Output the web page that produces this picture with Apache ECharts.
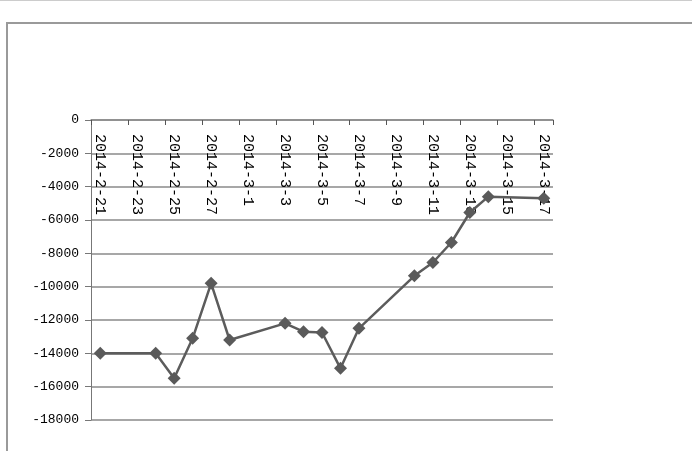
<!DOCTYPE html>
<html>
<head>
<meta charset="utf-8">
<script src="https://cdn.jsdelivr.net/npm/echarts@6/dist/echarts.min.js"></script>
<style>
html,body{margin:0;padding:0;background:#fff;}
#chart{width:692px;height:451px;}
</style>
</head>
<body>
<div id="chart"></div>
<script>
// All calendar days shown on the category axis
var categories = [
  '2014-2-21','2014-2-22','2014-2-23','2014-2-24','2014-2-25','2014-2-26','2014-2-27','2014-2-28',
  '2014-3-1','2014-3-2','2014-3-3','2014-3-4','2014-3-5','2014-3-6','2014-3-7','2014-3-8',
  '2014-3-9','2014-3-10','2014-3-11','2014-3-12','2014-3-13','2014-3-14','2014-3-15','2014-3-16','2014-3-17'
];
// Dates that carry a data point and their values
var pointDates = [
  '2014-2-21','2014-2-24','2014-2-25','2014-2-26','2014-2-27','2014-2-28',
  '2014-3-3','2014-3-4','2014-3-5','2014-3-6','2014-3-7',
  '2014-3-10','2014-3-11','2014-3-12','2014-3-13','2014-3-14','2014-3-17'
];
var pointValues = [
  -14000,-14000,-15500,-13100,-9800,-13200,
  -12200,-12700,-12750,-14900,-12500,
  -9350,-8550,-7350,-5550,-4600,-4700
];
var yTicks = [0,-2000,-4000,-6000,-8000,-10000,-12000,-14000,-16000,-18000];

var seriesData = categories.map(function(c){
  var i = pointDates.indexOf(c);
  return i >= 0 ? pointValues[i] : null;
});

var font = 'Liberation Mono, DejaVu Sans Mono, monospace';
var chart = echarts.init(document.getElementById('chart'), null, {renderer:'canvas'});
chart.setOption({
  animation: false,
  backgroundColor: '#ffffff',
  graphic: [
    {type:'line', shape:{x1:0,y1:0.5,x2:692,y2:0.5}, style:{stroke:'#cccccc', lineWidth:1}},
    {type:'rect', shape:{x:7,y:23,width:700,height:440}, style:{fill:'none', stroke:'#9a9a9a', lineWidth:2}}
  ],
  grid: {left:91, right:139, top:120, bottom:31, containLabel:false},
  xAxis: {
    type:'category',
    position:'top',
    boundaryGap:true,
    data:categories,
    axisLine:{show:true, lineStyle:{color:'#8a8a8a', width:1.5}},
    axisTick:{show:true, inside:true, length:5, interval:1, lineStyle:{color:'#555'}},
    axisLabel:{inside:true, rotate:-90, interval:1, margin:14, color:'#000', fontSize:15, fontFamily:font},
    splitLine:{show:false}
  },
  yAxis: {
    type:'value',
    min:-18000, max:0, interval:2000,
    axisLine:{show:true, lineStyle:{color:'#777', width:1}},
    axisTick:{show:true, length:6, lineStyle:{color:'#777'}},
    axisLabel:{margin:12, color:'#000', fontSize:13, fontFamily:font,
      formatter:function(v){ return yTicks.indexOf(v) >= 0 ? String(v) : ''; }},
    splitLine:{show:true, lineStyle:{color:'#8a8a8a', width:1.5}}
  },
  series: [{
    type:'line',
    data:seriesData,
    connectNulls:true,
    showAllSymbol:true,
    symbol:'diamond',
    symbolSize:13,
    lineStyle:{color:'#5c5c5c', width:2.5},
    itemStyle:{color:'#5a5a5a'}
  }]
});
</script>
</body>
</html>
